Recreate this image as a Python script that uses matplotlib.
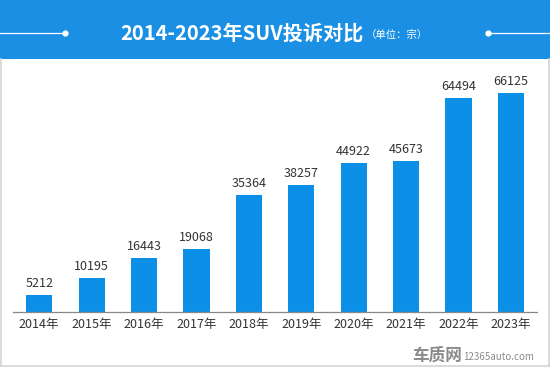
import matplotlib
matplotlib.use("Agg")
import matplotlib.pyplot as plt
from matplotlib.patches import Rectangle
from matplotlib.lines import Line2D

plt.rcParams['font.family'] = ['Noto Sans CJK SC', 'DejaVu Sans']

years = ["2014年", "2015年", "2016年", "2017年", "2018年", "2019年", "2020年", "2021年", "2022年", "2023年"]
complaints = [5212, 10195, 16443, 19068, 35364, 38257, 44922, 45673, 64494, 66125]
title = "2014-2023年SUV投诉对比"
unit = "（单位：宗）"

W, H = 550, 368
fig = plt.figure(figsize=(W / 100, H / 100), dpi=100)
fig.patch.set_facecolor("white")

def fx(px):
    return px / W

def fy(py):
    return 1 - py / H

# header band
fig.patches.append(Rectangle((0, fy(59)), 1, 59 / H, transform=fig.transFigure,
                             facecolor="#1a8fe3", edgecolor="none", zorder=0))
# frame
fig.add_artist(Line2D([fx(1), fx(1)], [fy(59), fy(366)], color="#d4d4d4", lw=1.2))
fig.add_artist(Line2D([fx(548.5), fx(548.5)], [fy(59), fy(366)], color="#d4d4d4", lw=1.2))
fig.add_artist(Line2D([fx(1), fx(548.5)], [fy(366), fy(366)], color="#d4d4d4", lw=1.2))

# header decorations
fig.add_artist(Line2D([0, fx(65)], [fy(33), fy(33)], color="white", lw=0.9))
fig.add_artist(Line2D([fx(65)], [fy(33)], color="white", marker="o", markersize=3.5))
fig.add_artist(Line2D([fx(488), 1], [fy(33), fy(33)], color="white", lw=0.9))
fig.add_artist(Line2D([fx(488)], [fy(33)], color="white", marker="o", markersize=3.5))

fig.text(fx(242), fy(33), title, color="white", fontsize=14.5, fontweight="bold",
         ha="center", va="center")
fig.text(fx(366), fy(35), unit, color="white", fontsize=7.5, ha="left", va="center")

# axes
ax = fig.add_axes([fx(13), (H - 312) / H, fx(537) - fx(13), (312 - 60) / H])
ax.set_facecolor("none")
x = list(range(len(years)))
ax.bar(x, complaints, width=0.5, color="#0c8fe6", zorder=2)
ax.set_xlim(-0.5, len(years) - 0.5)
ax.set_ylim(0, 76090)
for xi, v in zip(x, complaints):
    ax.text(xi, v + 1500, str(v), ha="center", va="bottom", fontsize=9, color="#333333")
ax.set_xticks(x)
ax.set_xticklabels(years, fontsize=9, color="#333333")
ax.tick_params(axis="x", length=0, pad=4)
ax.set_yticks([])
for s in ["top", "right", "left"]:
    ax.spines[s].set_visible(False)
ax.spines["bottom"].set_color("#888888")
ax.spines["bottom"].set_linewidth(0.9)

# watermark
fig.text(fx(412), fy(356), "车质网", color="#8a8a8a", fontsize=12, fontweight="bold",
         ha="left", va="center")
fig.text(fx(463), fy(357), "12365auto.com", color="#8a8a8a", fontsize=7,
         ha="left", va="center")

fig.savefig("out.png", dpi=100)
